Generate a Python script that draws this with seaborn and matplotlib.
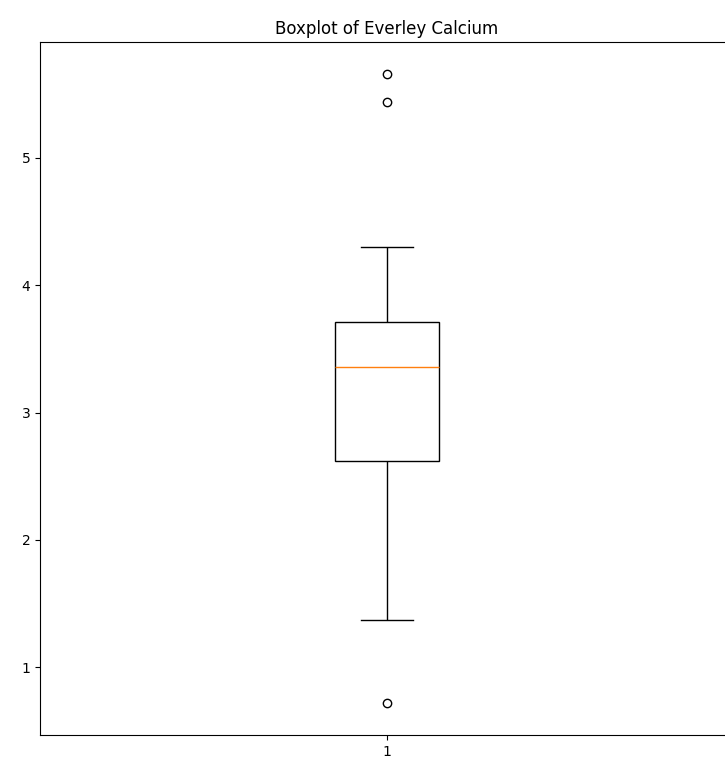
import numpy as np
import pandas as pd
import matplotlib
matplotlib.use("Agg")
import matplotlib.pyplot as plt
import seaborn as sns

# Everley calcium readings
calcium = [0.72, 1.37, 2.10, 2.62, 2.95, 3.20, 3.36, 3.50, 3.62, 3.71, 4.30, 5.44, 5.66]
label = "1"
title = "Boxplot of Everley Calcium"

df = pd.DataFrame({label: calcium})

fig = plt.figure(figsize=(7.25, 7.63), dpi=100)
# the reference is cropped on the right, so the axes runs past the figure edge
ax = fig.add_axes([40 / 725, 28 / 763, 694 / 725, 693 / 763])

sns.boxplot(
    data=df,
    ax=ax,
    width=0.15,
    color="white",
    linecolor="black",
    linewidth=1,
    medianprops=dict(color="#ff7f0e", linewidth=1),
    flierprops=dict(marker="o", markerfacecolor="none", markeredgecolor="black",
                    markersize=6, markeredgewidth=1),
)

ax.set_title(title)
ax.set_xlim(-0.5, 0.5)
ax.set_ylim(0.467, 5.911)

fig.savefig("out.png", dpi=100)
